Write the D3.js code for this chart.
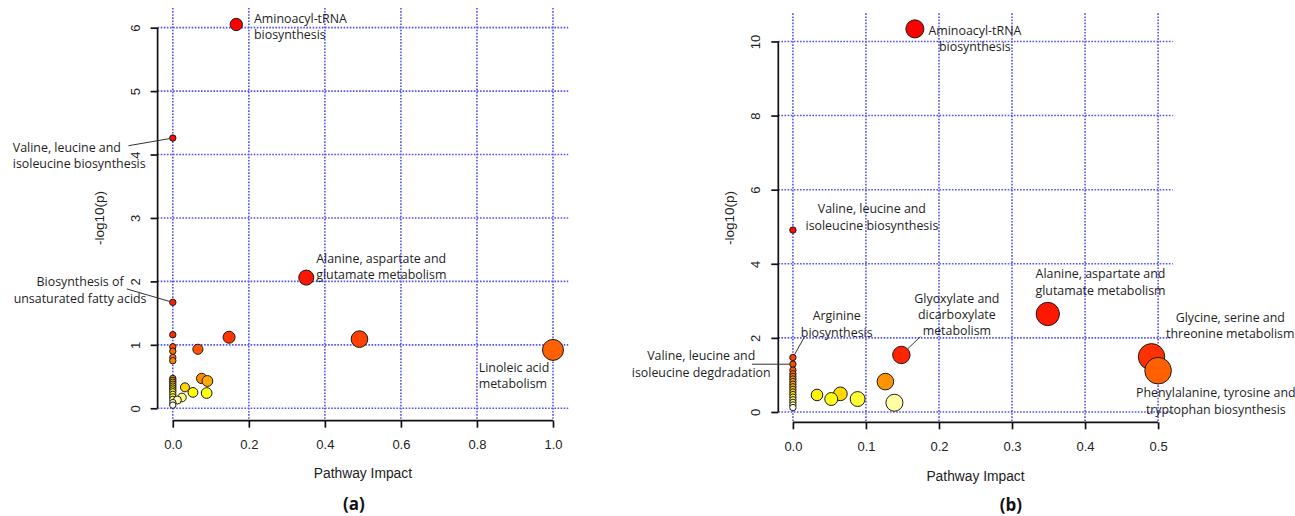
<!DOCTYPE html>
<html>
<head>
<meta charset="utf-8">
<script src="https://cdn.jsdelivr.net/npm/d3@7"></script>
<style>
  body { margin: 0; background: #fff; }
  svg { display: block; }
</style>
</head>
<body>
<script>
// ---- panel (a) data: pathway impact vs -log10(p)
const impactA = [0.167, 0, 0.351, 0, 1.0, 0.491, 0.148, 0, 0, 0, 0, 0,
  0.066, 0.076, 0.091, 0.032, 0.053, 0.089, 0.024, 0.012, 0,
  0, 0, 0, 0, 0, 0, 0, 0, 0, 0, 0, 0];
const logpA = [6.05, 4.26, 2.06, 1.67, 0.92, 1.09, 1.12, 1.16, 0.97, 0.90, 0.80, 0.75,
  0.93, 0.47, 0.43, 0.33, 0.25, 0.24, 0.17, 0.13, 0.05,
  0.47, 0.44, 0.41, 0.38, 0.35, 0.32, 0.29, 0.26, 0.22, 0.18, 0.14, 0.09];
const xTicksA = [0, 0.2, 0.4, 0.6, 0.8, 1.0];
const yTicksA = [0, 1, 2, 3, 4, 5, 6];

// ---- panel (b) data
const impactB = [0.167, 0, 0.349, 0.1485, 0.491, 0.5, 0, 0,
  0.033, 0.0525, 0.065, 0.0886, 0.1266, 0.139,
  0, 0, 0, 0, 0, 0, 0, 0, 0, 0, 0, 0, 0, 0, 0];
const logpB = [10.34, 4.91, 2.645, 1.54, 1.49, 1.115, 1.47, 1.29,
  0.46, 0.35, 0.49, 0.35, 0.82, 0.25,
  1.13, 1.03, 0.96, 0.89, 0.82, 0.75, 0.68, 0.61, 0.54, 0.47, 0.40, 0.33, 0.26, 0.19, 0.12];
const xTicksB = [0, 0.1, 0.2, 0.3, 0.4, 0.5];
const yTicksB = [0, 2, 4, 6, 8, 10];

// pathway names for the labelled points (index into the arrays above)
const labelsA = [
  { i: 0, lines: ['Aminoacyl-tRNA', 'biosynthesis'] },
  { i: 1, lines: ['Valine, leucine and', 'isoleucine biosynthesis'] },
  { i: 3, lines: ['Biosynthesis of', 'unsaturated fatty acids'] },
  { i: 2, lines: ['Alanine, aspartate and', 'glutamate metabolism'] },
  { i: 4, lines: ['Linoleic acid', 'metabolism'] }
];
const labelsB = [
  { i: 0, lines: ['Aminoacyl-tRNA', 'biosynthesis'] },
  { i: 1, lines: ['Valine, leucine and', 'isoleucine biosynthesis'] },
  { i: 6, lines: ['Arginine', 'biosynthesis'] },
  { i: 7, lines: ['Valine, leucine and', 'isoleucine degdradation'] },
  { i: 3, lines: ['Glyoxylate and', 'dicarboxylate', 'metabolism'] },
  { i: 2, lines: ['Alanine, aspartate and', 'glutamate metabolism'] },
  { i: 4, lines: ['Glycine, serine and', 'threonine metabolism'] },
  { i: 5, lines: ['Phenylalanine, tyrosine and', 'tryptophan biosynthesis'] }
];

// label placement (pixel offsets from the point), kept apart from the data
const placeA = [
  { anchor: 'start', dx: 17.7, dy: -1, lh: 16 },
  { anchor: 'start', dx: -160, dy: 13.7, lh: 16.6, lead: [-44.4, 7.7] },
  { anchor: 'middle', dx: -92.7, dy: -16, lh: 16.6, lead: [-46, -13.4] },
  { anchor: 'start', dx: 10, dy: -14.4, lh: 16 },
  { anchor: 'start', dx: -74.3, dy: 21.7, lh: 16.6 }
];
const placeB = [
  { anchor: 'middle', dx: 60, dy: 6, lh: 16.5 },
  { anchor: 'middle', dx: 79, dy: -16.7, lh: 16.7 },
  { anchor: 'middle', dx: 43.8, dy: -37.5, lh: 16.7, lead: [11.3, -20.2] },
  { anchor: 'middle', dx: -91.7, dy: -4.2, lh: 17.3, lead: [-41, 0] },
  { anchor: 'middle', dx: 55.5, dy: -52.3, lh: 16.2, lead: [19, -18.3] },
  { anchor: 'middle', dx: 52.7, dy: -35.7, lh: 16.7 },
  { anchor: 'middle', dx: 78.8, dy: -35, lh: 16.6 },
  { anchor: 'middle', dx: 57.7, dy: 26, lh: 17.3 }
];

const svg = d3.select('body').append('svg')
  .attr('width', 1295)
  .attr('height', 516);

// R's heat.colors(n)
function heatColors(n) {
  const j = Math.floor(n / 4), i = n - j, out = [];
  for (let k = 0; k < i; k++) out.push(d3.hsl(60 * k / (i - 1), 1, 0.5).formatHex());
  for (let k = 0; k < j; k++) {
    const s = 1 - 1 / (2 * j) - k / j;
    out.push(d3.rgb(255, 255, Math.round(255 * (1 - s))).formatHex());
  }
  return out;
}

const tickFont = '"Liberation Sans", Arial, sans-serif';
const labelFont = '"Open Sans", sans-serif';

function drawPanel(p) {
  const x = d3.scaleLinear().domain(p.xlim).range([p.left, p.right]);
  const y = d3.scaleLinear().domain(p.ylim).range([p.bottom, p.top]);
  const r = d3.scaleSqrt().domain([0, d3.max(p.impact)]).range(p.rRange);
  const g = svg.append('g');

  // dotted blue grid
  g.selectAll('.gx').data(p.xTicks).enter().append('line')
    .attr('x1', d => x(d)).attr('x2', d => x(d))
    .attr('y1', p.top).attr('y2', p.bottom)
    .attr('stroke', '#5252f6').attr('stroke-width', 1.6)
    .attr('stroke-dasharray', '1.6,1.5');
  g.selectAll('.gy').data(p.yTicks).enter().append('line')
    .attr('x1', p.left).attr('x2', p.right)
    .attr('y1', d => y(d)).attr('y2', d => y(d))
    .attr('stroke', '#5252f6').attr('stroke-width', 1.6)
    .attr('stroke-dasharray', '1.6,1.5');

  // axes (R style: line spans the tick range)
  const xAxis = g.append('g').attr('transform', `translate(0,${p.bottom})`)
    .call(d3.axisBottom(x).tickValues(p.xTicks).tickSize(7).tickFormat(d3.format('.1f')));
  const yAxis = g.append('g').attr('transform', `translate(${p.left},0)`)
    .call(d3.axisLeft(y).tickValues(p.yTicks).tickSize(7).tickFormat(d3.format('d')));
  [xAxis, yAxis].forEach(a => {
    a.select('.domain').remove();
    a.selectAll('line').attr('stroke', '#111').attr('stroke-width', 1.7);
    a.selectAll('text').attr('fill', '#222')
      .style('font-family', tickFont).style('font-size', '13px');
  });
  xAxis.selectAll('text').attr('y', 28.5).attr('dy', 0);
  yAxis.selectAll('text').attr('x', 0).attr('dy', 0)
    .attr('text-anchor', 'middle')
    .attr('transform', 'translate(-18,0) rotate(-90)');
  g.append('line')
    .attr('x1', x(p.xTicks[0])).attr('x2', x(p.xTicks[p.xTicks.length - 1]))
    .attr('y1', p.bottom).attr('y2', p.bottom)
    .attr('stroke', '#111').attr('stroke-width', 1.7);
  g.append('line')
    .attr('x1', p.left).attr('x2', p.left)
    .attr('y1', y(p.yTicks[0])).attr('y2', y(p.yTicks[p.yTicks.length - 1]))
    .attr('stroke', '#111').attr('stroke-width', 1.7);

  // axis titles
  g.append('text')
    .attr('x', (p.left + p.right) / 2).attr('y', p.bottom + p.xTitleGap)
    .attr('text-anchor', 'middle').attr('fill', '#222')
    .style('font-family', tickFont).style('font-size', '13.8px')
    .text('Pathway Impact');
  g.append('text')
    .attr('transform', `translate(${p.yTitleX},218) rotate(-90)`)
    .attr('text-anchor', 'middle').attr('fill', '#222')
    .style('font-family', tickFont).style('font-size', '13.5px')
    .text('-log10(p)');

  // points: colour by rank of -log10(p), size by impact
  const n = p.logp.length;
  const order = d3.range(n).sort((a, b) => p.logp[b] - p.logp[a]);
  const cols = heatColors(n);
  const colour = [];
  order.forEach((idx, rank) => { colour[idx] = cols[rank]; });

  g.selectAll('circle').data(order).enter().append('circle')
    .attr('cx', d => x(p.impact[d]))
    .attr('cy', d => y(p.logp[d]))
    .attr('r', d => r(p.impact[d]))
    .attr('fill', d => colour[d])
    .attr('stroke', '#1a1a1a').attr('stroke-width', 1);

  // labels
  p.labels.forEach((lab, k) => {
    const pl = p.place[k];
    const cx = x(p.impact[lab.i]), cy = y(p.logp[lab.i]);
    const t = g.append('text')
      .attr('text-anchor', pl.anchor).attr('fill', '#1e1e1e')
      .style('font-family', labelFont).style('font-size', '12.4px');
    lab.lines.forEach((s, li) => {
      t.append('tspan').attr('x', cx + pl.dx).attr('y', cy + pl.dy + li * pl.lh).text(s);
    });
    if (pl.lead) {
      const sx = cx + pl.lead[0], sy = cy + pl.lead[1];
      const len = Math.hypot(cx - sx, cy - sy), rr = r(p.impact[lab.i]);
      g.append('line')
        .attr('x1', sx).attr('y1', sy)
        .attr('x2', cx - (cx - sx) / len * rr).attr('y2', cy - (cy - sy) / len * rr)
        .attr('stroke', '#333').attr('stroke-width', 1);
    }
  });

  svg.append('text')
    .attr('x', p.caption[0]).attr('y', p.caption[1])
    .attr('text-anchor', 'middle').attr('fill', '#111')
    .style('font-family', labelFont).style('font-size', '17px').style('font-weight', 'bold')
    .text(p.captionText);
}

drawPanel({
  impact: impactA, logp: logpA, xTicks: xTicksA, yTicks: yTicksA,
  labels: labelsA, place: placeA,
  xlim: [-0.04, 1.04], ylim: [-0.196, 6.31],
  left: 157.6, right: 568.2, top: 8, bottom: 420.7,
  rRange: [3.2, 10.5], xTitleGap: 57.3, yTitleX: 103.5,
  caption: [354, 510], captionText: '(a)'
});

drawPanel({
  impact: impactB, logp: logpB, xTicks: xTicksB, yTicks: yTicksB,
  labels: labelsB, place: placeB,
  xlim: [-0.02, 0.52], ylim: [-0.278, 10.76],
  left: 778.3, right: 1172.7, top: 13.3, bottom: 422.3,
  rRange: [3.2, 13.3], xTitleGap: 58.7, yTitleX: 733.5,
  caption: [1010.8, 511], captionText: '(b)'
});
</script>
</body>
</html>
